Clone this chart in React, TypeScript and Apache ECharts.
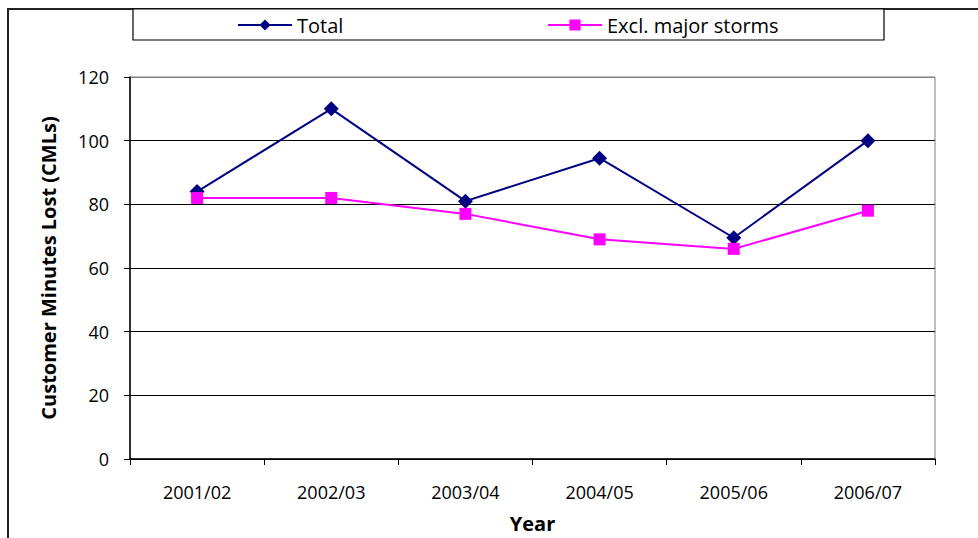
import React, { useEffect, useRef } from "react";
import * as echarts from "echarts";

const categories = ["2001/02", "2002/03", "2003/04", "2004/05", "2005/06", "2006/07"];
const totalValues = [84, 110, 81, 94.5, 69.5, 100];
const exclStormValues = [82, 82, 77, 69, 66, 78];
const yTicks = { min: 0, max: 120, interval: 20 };

const FONT = "'Open Sans', sans-serif";

export default function App() {
  const ref = useRef<HTMLDivElement>(null);
  useEffect(() => {
    if (!ref.current) return;
    const chart = echarts.init(ref.current, undefined, { renderer: "svg" });
    chart.setOption({
      animation: false,
      backgroundColor: "#fff",
      textStyle: { fontFamily: FONT },
      graphic: [
        {
          type: "rect",
          z: -10,
          shape: { x: 8, y: 9, width: 1000, height: 600 },
          style: { fill: "#fff", stroke: "#222", lineWidth: 2 },
        },
        {
          type: "rect",
          z: -5,
          shape: { x: 133, y: 9, width: 751, height: 31 },
          style: { fill: "#fff", stroke: "#000", lineWidth: 1.2 },
        },
      ],
      legend: [
        {
          data: ["Total"],
          left: 237,
          top: 15,
          padding: 0,
          itemWidth: 54,
          itemHeight: 14,
          itemGap: 6,
          textStyle: { fontFamily: FONT, fontSize: 20, color: "#000" },
        },
        {
          data: ["Excl. major storms"],
          left: 547,
          top: 15,
          padding: 0,
          itemWidth: 54,
          itemHeight: 14,
          itemGap: 6,
          textStyle: { fontFamily: FONT, fontSize: 20, color: "#000" },
        },
      ],
      grid: { left: 130, right: 43, top: 77, bottom: 79, show: true, borderColor: "#808080", borderWidth: 1 },
      xAxis: {
        type: "category",
        data: categories,
        boundaryGap: true,
        name: "Year",
        nameLocation: "middle",
        nameGap: 54,
        nameTextStyle: { fontFamily: FONT, fontSize: 20, fontWeight: "bold", color: "#000" },
        axisLine: { lineStyle: { color: "#000", width: 1.5 } },
        axisTick: { show: true, length: 6, lineStyle: { color: "#000" } },
        axisLabel: { margin: 24, fontFamily: FONT, fontSize: 18, color: "#000" },
      },
      yAxis: {
        type: "value",
        min: yTicks.min,
        max: yTicks.max,
        interval: yTicks.interval,
        name: "Customer Minutes Lost (CMLs)",
        nameLocation: "middle",
        nameRotate: 90,
        nameGap: 72,
        nameTextStyle: { fontFamily: FONT, fontSize: 20, fontWeight: "bold", color: "#000" },
        axisLine: { show: true, lineStyle: { color: "#000", width: 1.5 } },
        axisTick: { show: true, length: 6, lineStyle: { color: "#000" } },
        axisLabel: { margin: 21, fontFamily: FONT, fontSize: 18, color: "#000" },
        splitLine: {
          show: true,
          lineStyle: { color: ["#000", "#000", "#000", "#000", "#000", "#000", "#808080"], width: 1 },
        },
      },
      series: [
        {
          name: "Total",
          type: "line",
          data: totalValues,
          symbol: "diamond",
          symbolSize: 15,
          lineStyle: { color: "#000080", width: 2 },
          itemStyle: { color: "#000080" },
          z: 2,
        },
        {
          name: "Excl. major storms",
          type: "line",
          data: exclStormValues,
          symbol: "rect",
          symbolSize: 12,
          lineStyle: { color: "#FF00FF", width: 2 },
          itemStyle: { color: "#FF00FF" },
          z: 3,
        },
      ],
    });
    return () => chart.dispose();
  }, []);
  return <div ref={ref} style={{ position: "fixed", left: 0, top: 0, width: 978, height: 538 }} />;
}
